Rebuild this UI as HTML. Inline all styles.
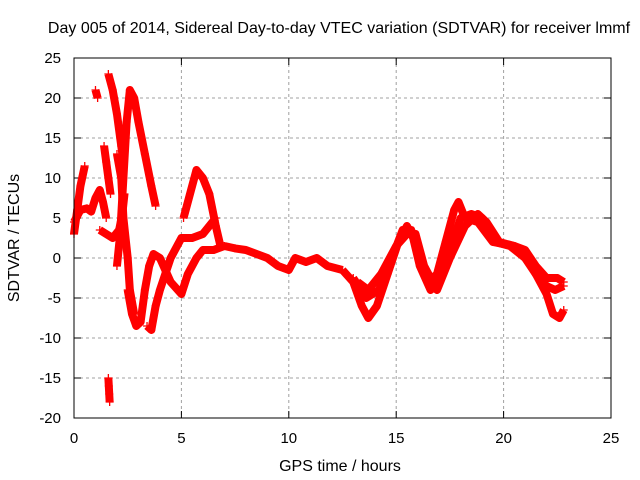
<!DOCTYPE html>
<html><head><meta charset="utf-8"><style>
body{margin:0;background:#fff}
svg{display:block;font-family:"Liberation Sans",sans-serif;font-size:15px}
</style></head><body>
<svg id="chart" width="640" height="480">
<text x="339" y="33" text-anchor="middle" font-size="16">Day 005 of 2014, Sidereal Day-to-day VTEC variation (SDTVAR) for receiver lmmf</text>
<text x="340" y="471" text-anchor="middle" font-size="16">GPS time / hours</text>
<text transform="translate(19,238) rotate(-90)" text-anchor="middle" font-size="16">SDTVAR / TECUs</text>
<g id="grid"></g>
<g id="series"></g>
<rect x="74" y="58" width="537" height="360" fill="none" stroke="#000"/>
</svg>
<script>
const xTicks=[0,5,10,15,20,25];
const yTicks=[-20,-15,-10,-5,0,5,10,15,20,25];
const track1=[[0,3],[0.15,6],[0.3,9],[0.5,11.5]];
const track2=[[0,4.5],[0.3,6],[0.6,6.2],[0.8,5.8],[1.0,7.5],[1.2,8.5],[1.35,7],[1.5,5]];
const track3=[[1.2,3.5],[1.5,3],[1.8,2.5],[2.1,3.5],[2.25,5.5],[2.35,8]];
const track4=[[1.6,23],[1.8,21],[2.0,18],[2.2,14],[2.3,12]];
const track5=[[1.0,21],[1.1,20]];
const track6=[[1.4,14],[1.5,12],[1.6,10],[1.7,8]];
const track7=[[2.0,13],[2.2,10],[2.3,5],[2.5,0],[2.6,-4],[2.8,-7]];
const track8=[[2.0,-1],[2.15,3],[2.3,10],[2.45,17],[2.6,21],[2.8,20],[3.0,17],[3.3,13],[3.6,9],[3.8,6.5]];
const track9=[[2.5,-4],[2.7,-7],[2.9,-8.5],[3.1,-8],[3.3,-4],[3.5,-1],[3.7,0.5],[4.0,0],[4.5,-3],[5.0,-4.5],[5.3,-2],[5.7,0],[6.0,1],[6.5,1],[7,1.5]];
const track10=[[3.4,-8.5],[3.6,-9],[3.8,-6],[4.0,-4],[4.5,0],[5.0,2.5],[5.5,2.5],[6.0,3],[6.3,4],[6.6,5]];
const track11=[[5.1,5],[5.4,8],[5.7,11],[6.0,10],[6.3,8],[6.6,4],[6.8,1.7]];
const track12=[[7,1.5],[7.5,1.2],[8,1],[8.5,0.5],[9,0],[9.5,-1],[10,-1.5],[10.3,0],[10.8,-0.5],[11.3,0],[11.8,-1],[12.5,-1.5]];
const track13=[[12.5,-1.5],[13,-3],[13.4,-6],[13.7,-7.5],[14.1,-6],[14.6,-2],[15.1,2],[15.5,4],[15.9,2],[16.2,-1],[16.5,-3],[16.9,-2],[17.3,2],[17.7,6],[17.9,7],[18.2,5],[18.8,4.5],[19.5,2],[20.5,1.5],[21,0.5],[21.5,-2],[22,-4.5],[22.3,-7],[22.6,-7.5],[22.8,-6.5]];
const track14=[[13,-2.5],[13.6,-5],[14.2,-4],[14.8,0],[15.3,3.5],[15.7,3.5],[16.1,-1],[16.6,-4],[17,-3],[17.5,1],[18,5],[18.5,5.5],[19,5],[19.6,2],[20.3,1.5],[21,0],[21.5,-2],[22,-3.5],[22.4,-4],[22.8,-3.5]];
const track15=[[13.2,-3],[13.7,-4],[14.3,-2],[15,1.5],[15.5,3],[15.9,3],[16.3,-1],[16.9,-4],[17.5,0],[18.2,4],[18.8,5.5],[19.2,4.5],[19.8,2],[20.5,1.5],[21,1],[21.5,-1],[22,-2.5],[22.5,-2.5],[22.8,-3]];
const track16=[[1.6,-15],[1.62,-16],[1.64,-17],[1.66,-18]];
const tracks=[track1,track2,track3,track4,track5,track6,track7,track8,track9,track10,track11,track12,track13,track14,track15,track16];

const X=v=>74+v*(537/25);
const Y=v=>258-v*8;
const NS='http://www.w3.org/2000/svg';
const grid=document.getElementById('grid');
const series=document.getElementById('series');
function mk(tag,attrs,parent){const e=document.createElementNS(NS,tag);for(const k in attrs)e.setAttribute(k,attrs[k]);parent.appendChild(e);return e;}
xTicks.forEach(t=>{
  if(t>0&&t<25){const g=mk('line',{x1:X(t),x2:X(t),y1:58,y2:418,stroke:'#a0a0a0','stroke-dasharray':'3,3'},grid);
  
  }
  const tk=mk('line',{x1:X(t),x2:X(t),y1:418,y2:411,stroke:'#000'},grid);
  
  
  const tk2=mk('line',{x1:X(t),x2:X(t),y1:58,y2:65,stroke:'#000'},grid);
  
  
  const l=mk('text',{x:X(t),y:443,'text-anchor':'middle'},grid);l.textContent=t;
  
  
});
yTicks.forEach(t=>{
  if(t>-20&&t<25){const g=mk('line',{x1:74,x2:611,y1:Y(t),y2:Y(t),stroke:'#a0a0a0','stroke-dasharray':'3,3'},grid);
  
  }
  const tk=mk('line',{x1:74,x2:81,y1:Y(t),y2:Y(t),stroke:'#000'},grid);
  
  
  const tk2=mk('line',{x1:604,x2:611,y1:Y(t),y2:Y(t),stroke:'#000'},grid);
  
  
  const l=mk('text',{x:61,y:Y(t)+5,'text-anchor':'end'},grid);l.textContent=t;
  
  
});
tracks.forEach((tr,i)=>{
  const p=mk('polyline',{points:tr.map(d=>X(d[0])+','+Y(d[1])).join(' '),fill:'none',stroke:'#ff0000','stroke-width':8,'stroke-linejoin':'round','stroke-linecap':'butt'},series);
  
  
  tr.forEach(d=>{
    const m=mk('path',{d:`M${X(d[0])-4},${Y(d[1])}h8M${X(d[0])},${Y(d[1])-4}v8`,stroke:'#ff0000','stroke-width':1.3},series);
    
    
  });
});
</script>
</body></html>
